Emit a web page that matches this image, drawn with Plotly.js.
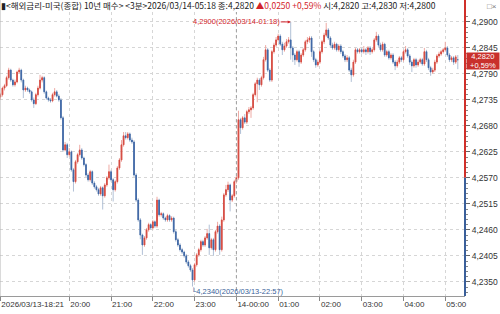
<!DOCTYPE html>
<html>
<head>
<meta charset="utf-8">
<script src="https://cdn.plot.ly/plotly-3.0.1.min.js"></script>
<style>html,body{margin:0;padding:0;background:#fff;}#chart{width:500px;height:314px;}</style>
</head>
<body>
<div id="chart"></div>
<script>
// ---- data (3-minute bars, 2026/03/13 18:21 -> 2026/03/14 05:18) ----
const startTime = '2026-03-13 18:21';
const barMinutes = 3;
const openVals = [
4.2741,4.2746,4.2760,4.2765,4.2782,4.2798,4.2777,4.2767,4.2773,4.2794,
4.2798,4.2777,4.2756,4.2760,4.2756,4.2752,4.2735,4.2727,4.2746,4.2760,
4.2777,4.2782,4.2752,4.2739,4.2735,4.2733,4.2746,4.2752,4.2743,4.2735,
4.2697,4.2629,4.2640,4.2619,4.2625,4.2587,4.2562,4.2604,4.2619,4.2629,
4.2612,4.2598,4.2576,4.2566,4.2583,4.2559,4.2551,4.2545,4.2536,4.2549,
4.2532,4.2555,4.2570,4.2583,4.2566,4.2545,4.2562,4.2591,4.2608,4.2640,
4.2659,4.2655,4.2663,4.2650,4.2646,4.2576,4.2523,4.2481,4.2449,4.2428,
4.2443,4.2460,4.2471,4.2464,4.2477,4.2468,4.2523,4.2492,4.2494,4.2485,
4.2481,4.2490,4.2481,4.2485,4.2456,4.2439,4.2428,4.2418,4.2413,4.2405,
4.2392,4.2384,4.2375,4.2354,4.2386,4.2407,4.2418,4.2435,4.2428,4.2443,
4.2452,4.2422,4.2439,4.2418,4.2456,4.2468,4.2418,4.2481,4.2534,4.2545,
4.2555,4.2523,4.2532,4.2562,4.2570,4.2693,4.2676,4.2697,4.2688,4.2710,
4.2714,4.2718,4.2746,4.2769,4.2777,4.2767,4.2782,4.2820,4.2841,4.2798,
4.2777,4.2837,4.2851,4.2862,4.2870,4.2853,4.2841,4.2849,4.2858,4.2862,
4.2845,4.2830,4.2820,4.2837,4.2815,4.2830,4.2841,4.2858,4.2862,4.2866,
4.2837,4.2820,4.2809,4.2815,4.2837,4.2858,4.2872,4.2883,4.2866,4.2851,
4.2845,4.2853,4.2841,4.2849,4.2837,4.2828,4.2820,4.2824,4.2798,4.2788,
4.2815,4.2841,4.2837,4.2841,4.2837,4.2841,4.2837,4.2845,4.2837,4.2841,
4.2862,4.2870,4.2851,4.2841,4.2853,4.2830,4.2837,4.2824,4.2830,4.2815,
4.2807,4.2815,4.2824,4.2820,4.2837,4.2841,4.2828,4.2815,4.2807,4.2820,
4.2809,4.2815,4.2820,4.2811,4.2837,4.2820,4.2803,4.2794,4.2798,4.2815,
4.2828,4.2832,4.2837,4.2841,4.2845,4.2830,4.2820,4.2824,4.2815,4.2820];
const highVals = [
4.2750,4.2763,4.2769,4.2786,4.2803,4.2801,4.2780,4.2778,4.2797,4.2803,
4.2801,4.2780,4.2765,4.2763,4.2759,4.2755,4.2740,4.2750,4.2765,4.2788,
4.2786,4.2785,4.2755,4.2742,4.2739,4.2750,4.2760,4.2756,4.2747,4.2739,
4.2701,4.2646,4.2644,4.2633,4.2628,4.2591,4.2608,4.2623,4.2640,4.2633,
4.2615,4.2601,4.2580,4.2587,4.2586,4.2563,4.2555,4.2549,4.2553,4.2552,
4.2559,4.2574,4.2598,4.2587,4.2570,4.2566,4.2595,4.2612,4.2650,4.2667,
4.2667,4.2667,4.2666,4.2655,4.2650,4.2580,4.2527,4.2485,4.2452,4.2447,
4.2464,4.2475,4.2474,4.2481,4.2480,4.2530,4.2526,4.2498,4.2497,4.2488,
4.2494,4.2493,4.2489,4.2488,4.2460,4.2443,4.2432,4.2422,4.2416,4.2409,
4.2396,4.2388,4.2379,4.2390,4.2411,4.2422,4.2439,4.2439,4.2447,4.2462,
4.2471,4.2443,4.2443,4.2460,4.2477,4.2472,4.2488,4.2538,4.2555,4.2562,
4.2558,4.2536,4.2566,4.2574,4.2712,4.2697,4.2701,4.2705,4.2714,4.2720,
4.2722,4.2750,4.2773,4.2782,4.2781,4.2786,4.2826,4.2851,4.2845,4.2802,
4.2841,4.2856,4.2868,4.2875,4.2874,4.2858,4.2856,4.2864,4.2868,4.2900,
4.2849,4.2834,4.2841,4.2841,4.2834,4.2845,4.2862,4.2868,4.2870,4.2870,
4.2841,4.2824,4.2820,4.2841,4.2862,4.2877,4.2898,4.2887,4.2870,4.2856,
4.2858,4.2856,4.2853,4.2853,4.2841,4.2832,4.2830,4.2828,4.2803,4.2820,
4.2845,4.2845,4.2845,4.2845,4.2849,4.2845,4.2849,4.2849,4.2845,4.2866,
4.2879,4.2874,4.2856,4.2858,4.2856,4.2841,4.2841,4.2834,4.2834,4.2819,
4.2820,4.2828,4.2828,4.2841,4.2849,4.2845,4.2832,4.2819,4.2824,4.2824,
4.2820,4.2824,4.2824,4.2845,4.2841,4.2824,4.2807,4.2803,4.2820,4.2832,
4.2837,4.2841,4.2845,4.2858,4.2849,4.2834,4.2828,4.2828,4.2830,4.2830];
const lowVals = [
4.2735,4.2742,4.2755,4.2762,4.2778,4.2773,4.2763,4.2763,4.2770,4.2790,
4.2772,4.2739,4.2752,4.2752,4.2748,4.2731,4.2718,4.2724,4.2742,4.2757,
4.2772,4.2748,4.2735,4.2731,4.2729,4.2730,4.2742,4.2740,4.2731,4.2693,
4.2625,4.2626,4.2612,4.2615,4.2583,4.2541,4.2558,4.2600,4.2615,4.2608,
4.2594,4.2572,4.2562,4.2562,4.2555,4.2547,4.2541,4.2532,4.2532,4.2503,
4.2528,4.2551,4.2566,4.2562,4.2520,4.2541,4.2558,4.2587,4.2604,4.2636,
4.2651,4.2651,4.2646,4.2642,4.2572,4.2519,4.2477,4.2440,4.2407,4.2424,
4.2439,4.2456,4.2460,4.2460,4.2464,4.2464,4.2488,4.2488,4.2481,4.2477,
4.2477,4.2477,4.2477,4.2452,4.2435,4.2424,4.2414,4.2409,4.2401,4.2388,
4.2380,4.2371,4.2340,4.2350,4.2382,4.2403,4.2414,4.2424,4.2424,4.2439,
4.2407,4.2418,4.2405,4.2414,4.2452,4.2407,4.2414,4.2477,4.2530,4.2540,
4.2499,4.2519,4.2528,4.2558,4.2566,4.2663,4.2672,4.2684,4.2684,4.2705,
4.2697,4.2714,4.2742,4.2730,4.2756,4.2763,4.2778,4.2816,4.2794,4.2773,
4.2773,4.2833,4.2847,4.2858,4.2849,4.2830,4.2837,4.2845,4.2854,4.2820,
4.2815,4.2809,4.2816,4.2805,4.2811,4.2826,4.2837,4.2853,4.2856,4.2826,
4.2815,4.2803,4.2805,4.2811,4.2833,4.2853,4.2868,4.2862,4.2845,4.2841,
4.2841,4.2837,4.2837,4.2832,4.2824,4.2815,4.2815,4.2794,4.2773,4.2784,
4.2811,4.2833,4.2833,4.2833,4.2833,4.2830,4.2833,4.2830,4.2833,4.2837,
4.2858,4.2847,4.2837,4.2837,4.2826,4.2826,4.2820,4.2820,4.2811,4.2798,
4.2803,4.2811,4.2815,4.2816,4.2833,4.2824,4.2809,4.2794,4.2803,4.2803,
4.2805,4.2811,4.2807,4.2807,4.2815,4.2798,4.2786,4.2790,4.2794,4.2811,
4.2824,4.2828,4.2833,4.2837,4.2826,4.2815,4.2815,4.2809,4.2811,4.2800];
const closeVals = [
4.2746,4.2760,4.2765,4.2782,4.2798,4.2777,4.2767,4.2773,4.2794,4.2798,
4.2777,4.2756,4.2760,4.2756,4.2752,4.2735,4.2727,4.2746,4.2760,4.2777,
4.2782,4.2752,4.2739,4.2735,4.2733,4.2746,4.2752,4.2743,4.2735,4.2697,
4.2629,4.2640,4.2619,4.2625,4.2587,4.2562,4.2604,4.2619,4.2629,4.2612,
4.2598,4.2576,4.2566,4.2583,4.2559,4.2551,4.2545,4.2536,4.2549,4.2532,
4.2555,4.2570,4.2583,4.2566,4.2545,4.2562,4.2591,4.2608,4.2640,4.2659,
4.2655,4.2663,4.2650,4.2646,4.2576,4.2523,4.2481,4.2449,4.2428,4.2443,
4.2460,4.2471,4.2464,4.2477,4.2468,4.2523,4.2492,4.2494,4.2485,4.2481,
4.2490,4.2481,4.2485,4.2456,4.2439,4.2428,4.2418,4.2413,4.2405,4.2392,
4.2384,4.2375,4.2354,4.2386,4.2407,4.2418,4.2435,4.2428,4.2443,4.2452,
4.2422,4.2439,4.2418,4.2456,4.2468,4.2418,4.2481,4.2534,4.2545,4.2555,
4.2523,4.2532,4.2562,4.2570,4.2693,4.2676,4.2697,4.2688,4.2710,4.2714,
4.2718,4.2746,4.2769,4.2777,4.2767,4.2782,4.2820,4.2841,4.2798,4.2777,
4.2837,4.2851,4.2862,4.2870,4.2853,4.2841,4.2849,4.2858,4.2862,4.2845,
4.2830,4.2820,4.2837,4.2815,4.2830,4.2841,4.2858,4.2862,4.2866,4.2837,
4.2820,4.2809,4.2815,4.2837,4.2858,4.2872,4.2883,4.2866,4.2851,4.2845,
4.2853,4.2841,4.2849,4.2837,4.2828,4.2820,4.2824,4.2798,4.2788,4.2815,
4.2841,4.2837,4.2841,4.2837,4.2841,4.2837,4.2845,4.2837,4.2841,4.2862,
4.2870,4.2851,4.2841,4.2853,4.2830,4.2837,4.2824,4.2830,4.2815,4.2807,
4.2815,4.2824,4.2820,4.2837,4.2841,4.2828,4.2815,4.2807,4.2820,4.2809,
4.2815,4.2820,4.2811,4.2837,4.2820,4.2803,4.2794,4.2798,4.2815,4.2828,
4.2832,4.2837,4.2841,4.2845,4.2830,4.2820,4.2824,4.2815,4.2826,4.2820];
const prevClose = 4.2570;
const lastPrice = 4.2820;
const maxPoint = {time: '2026-03-14 01:18', value: 4.2900, label: '4,2900(2026/03/14-01:18)'};
const minPoint = {time: '2026-03-13 22:57', value: 4.2340, label: '└4,2340(2026/03/13-22:57)'};
const xTickVals = ['2026-03-13 18:21','2026-03-13 20:00','2026-03-13 21:00','2026-03-13 22:00','2026-03-13 23:00',
  '2026-03-14 00:00','2026-03-14 01:00','2026-03-14 02:00','2026-03-14 03:00','2026-03-14 04:00','2026-03-14 05:00'];
const xTickText = ['2026/03/13-18:21','20:00','21:00','22:00','23:00','14-00:00','01:00','02:00','03:00','04:00','05:00'];
const yTickVals = [4.2350,4.2405,4.2460,4.2515,4.2570,4.2625,4.2680,4.2735,4.2790,4.2845,4.2900];
const titleText = '▮<해외금리-미국(종합) 10년 매수> <3분>2026/03/14-05:18 종:4,2820 <span style="color:#d2232a">▲0,0250 +0,59%</span> 시:4,2820 고:4,2830 저:4,2800';
const lastLabel = '4,2820<br>+0,59%';

// ---- build time axis ----
function pad(n){return (n<10?'0':'')+n;}
const t0 = new Date(startTime.replace(' ','T')+':00Z').getTime();
const times = closeVals.map((_, i) => {
  const d = new Date(t0 + i*barMinutes*60000);
  return d.getUTCFullYear()+'-'+pad(d.getUTCMonth()+1)+'-'+pad(d.getUTCDate())+' '+pad(d.getUTCHours())+':'+pad(d.getUTCMinutes());
});
const bodyTop = openVals.map((o,i)=>Math.max(o, closeVals[i]));
const bodyBot = openVals.map((o,i)=>Math.min(o, closeVals[i]));

const UP = '#d6493f', DOWN = '#3b64a4', UPW = '#eeaaa4', DOWNW = '#b1c0d6';
const yRange = [4.2320, 4.2921];

const wicks = {
  type: 'candlestick', x: times, open: openVals, high: highVals, low: lowVals, close: closeVals,
  increasing: {line: {color: UPW, width: 1}, fillcolor: UPW},
  decreasing: {line: {color: DOWNW, width: 1}, fillcolor: DOWNW},
  hoverinfo: 'skip', showlegend: false
};
const bodies = {
  type: 'candlestick', x: times, open: openVals, high: bodyTop, low: bodyBot, close: closeVals,
  increasing: {line: {color: UP, width: 0.8}, fillcolor: UP},
  decreasing: {line: {color: DOWN, width: 0.8}, fillcolor: DOWN},
  hoverinfo: 'skip', showlegend: false
};

const prevFrac = (prevClose - yRange[0])/(yRange[1]-yRange[0]);
const layout = {
  width: 500, height: 314,
  margin: {l: 0, r: 35, t: 12, b: 18, pad: 0},
  paper_bgcolor: '#ffffff', plot_bgcolor: '#ffffff',
  separators: ',.',
  showlegend: false,
  boxgap: 0.5,
  font: {family: '"Liberation Sans", Arial, sans-serif', size: 8, color: '#333'},
  xaxis: {
    type: 'date',
    range: ['2026-03-13 18:20:30', '2026-03-14 05:28:20'],
    rangeslider: {visible: false},
    tickmode: 'array', tickvals: xTickVals, ticktext: xTickText,
    ticklabelposition: 'outside right',
    ticks: 'outside', ticklen: 4, tickcolor: '#888',
    tickfont: {size: 8, color: '#333'},
    showgrid: true, gridcolor: '#d6d6d6', griddash: 'dot', gridwidth: 1,
    showline: true, linecolor: '#9a9a9a', linewidth: 1,
    zeroline: false, fixedrange: true
  },
  yaxis: {
    side: 'right', range: yRange,
    tickmode: 'array', tickvals: yTickVals, tickformat: '.4f',
    ticks: 'outside', ticklen: 4, tickcolor: '#666',
    tickfont: {size: 8.5, color: '#333'},
    minor: {dtick: 0.0011, ticks: 'outside', ticklen: 2, tickcolor: '#888', showgrid: false},
    showgrid: true, gridcolor: '#d6d6d6', griddash: 'dot', gridwidth: 1,
    showline: false, zeroline: false, fixedrange: true
  },
  shapes: [
    {type: 'line', xref: 'paper', yref: 'paper', x0: 1, x1: 1, y0: prevFrac, y1: 1.045, line: {color: '#d0302a', width: 2}},
    {type: 'line', xref: 'paper', yref: 'paper', x0: 1, x1: 1, y0: 0, y1: prevFrac, line: {color: '#3a5f9a', width: 2}},
    {type: 'line', xref: 'paper', yref: 'paper', x0: 0, x1: 0, y0: 0, y1: 1.045, line: {color: '#b5b5b5', width: 1}},
    {type: 'line', xref: 'x', yref: 'paper', x0: '2026-03-14 00:00', x1: '2026-03-14 00:00', y0: 0, y1: 1, line: {color: '#a0a0a0', width: 1, dash: 'dot'}}
  ],
  annotations: [
    {xref: 'paper', yref: 'paper', x: 0, y: 1, xanchor: 'left', yanchor: 'bottom', showarrow: false,
     text: titleText, font: {family: '"Noto Sans CJK KR", sans-serif', size: 8.5, color: '#222'}, borderpad: 0},
    {xref: 'paper', yref: 'paper', x: 1.07, y: 1, xanchor: 'right', yanchor: 'bottom', showarrow: false,
     text: '□×', font: {size: 8, color: '#777'}, borderpad: 0},
    {x: maxPoint.time, y: maxPoint.value, text: maxPoint.label, showarrow: true, ax: -10, ay: 0,
     xanchor: 'right', arrowhead: 2, arrowsize: 0.6, arrowwidth: 1, arrowcolor: '#d2232a',
     font: {size: 7.5, color: '#d2232a'}, borderpad: 0, standoff: 0},
    {x: minPoint.time, y: minPoint.value, text: minPoint.label, showarrow: false,
     xanchor: 'left', yanchor: 'top', xshift: -3, yshift: 1,
     font: {size: 7.5, color: '#3a5f9a'}, borderpad: 0},
    {xref: 'paper', yref: 'y', x: 1, y: lastPrice, xanchor: 'left', yanchor: 'middle', xshift: 1, yshift: -1,
     text: lastLabel, showarrow: false, bgcolor: '#c9302c', align: 'center', width: 32, height: 16,
     font: {size: 7.5, color: '#ffffff'}, borderpad: 0}
  ]
};
Plotly.newPlot('chart', [wicks, bodies], layout, {staticPlot: true, displayModeBar: false});
</script>
</body>
</html>
